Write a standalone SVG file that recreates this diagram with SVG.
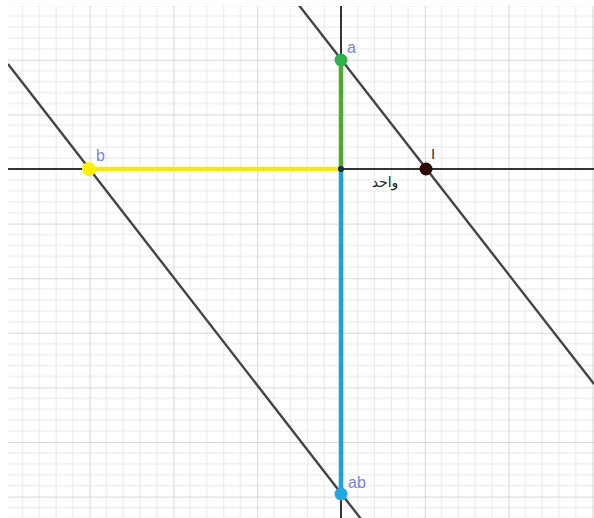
<svg xmlns="http://www.w3.org/2000/svg" width="594" height="518" viewBox="0 0 594 518">
<style>
.minor{stroke:#e8e8e8;stroke-width:1}
.major{stroke:#cdcdcd;stroke-width:1.6}
.line{stroke:#444;stroke-width:2.4;fill:none}
.axis{stroke:#333;stroke-width:2}
.lbl{font-family:"Liberation Sans",Arial,sans-serif;font-size:16px;fill:#7a86d8}
</style>
<defs>
<pattern id="grid" patternUnits="userSpaceOnUse" x="-78" y="-49.4" width="83.8" height="54.6">
<line class="minor" x1="16.76" y1="0" x2="16.76" y2="54.6"/>
<line class="minor" x1="33.52" y1="0" x2="33.52" y2="54.6"/>
<line class="minor" x1="50.28" y1="0" x2="50.28" y2="54.6"/>
<line class="minor" x1="67.04" y1="0" x2="67.04" y2="54.6"/>
<line class="minor" x1="0" y1="10.92" x2="83.8" y2="10.92"/>
<line class="minor" x1="0" y1="21.84" x2="83.8" y2="21.84"/>
<line class="minor" x1="0" y1="32.76" x2="83.8" y2="32.76"/>
<line class="minor" x1="0" y1="43.68" x2="83.8" y2="43.68"/>
<line class="major" x1="0" y1="0" x2="0" y2="54.6"/>
<line class="major" x1="0" y1="0" x2="83.8" y2="0"/>
</pattern>
<clipPath id="clip"><rect x="8" y="6" width="586" height="512"/></clipPath>
</defs>
<rect width="594" height="518" fill="#fff"/>
<g id="grid-bg" clip-path="url(#clip)">
<rect x="8" y="6" width="586" height="512" fill="url(#grid)"/>
</g>
<g id="connectors" clip-path="url(#clip)">
<line class="axis" x1="8" y1="169" x2="594" y2="169"/>
<line class="axis" x1="341" y1="6" x2="341" y2="518" stroke="#222"/>
<line id="line-aI" class="line" x1="298" y1="4" x2="594" y2="384"/>
<line id="line-bab" class="line" x1="8" y1="64" x2="361" y2="519"/>
<line id="seg-b" x1="89" y1="169" x2="341" y2="169" stroke="#f2ea10" stroke-width="4.5"/>
<line id="seg-a" x1="341" y1="60" x2="341" y2="169" stroke="#4caa2e" stroke-width="4.5"/>
<line id="seg-ab" x1="341" y1="169" x2="341" y2="494" stroke="#1f9fdb" stroke-width="4.5"/>
</g>
<g id="origin"><circle cx="341" cy="169" r="3" fill="#1a2a30"/></g>
<g id="node-a"><circle cx="341" cy="60" r="6.5" fill="#2db34c"/><text class="lbl" x="347" y="53">a</text></g>
<g id="node-b"><circle cx="89" cy="169" r="7" fill="#fff200"/><text class="lbl" x="96" y="161">b</text></g>
<g id="node-I"><circle cx="426" cy="169" r="6.5" fill="#2e0606"/><text x="431" y="159" font-family="Liberation Sans,Arial,sans-serif" font-size="15" fill="#333">I</text></g>
<g id="node-ab"><circle cx="341" cy="494" r="6.5" fill="#1fa8e6"/><text class="lbl" x="348" y="488">ab</text></g>
<g id="label-wahid"><text x="385" y="187" text-anchor="middle" font-family="DejaVu Sans,sans-serif" font-size="14" fill="#222" direction="rtl">واحد</text></g>
</svg>
